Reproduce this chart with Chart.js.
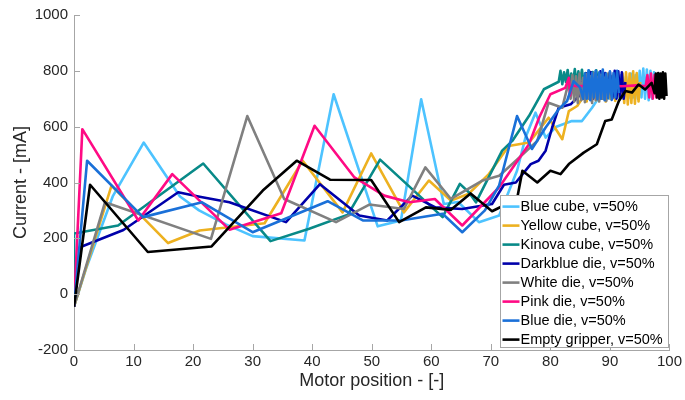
<!DOCTYPE html>
<html>
<head>
<meta charset="utf-8">
<title>Motor current vs position</title>
<script src="https://cdn.jsdelivr.net/npm/chart.js@4.4.1/dist/chart.umd.min.js"></script>
<style>
  html, body { margin: 0; padding: 0; background: #fff; }
  #wrap { width: 685px; height: 400px; }
</style>
</head>
<body>
<div id="wrap"><canvas id="currentChart" width="685" height="400"></canvas></div>
<script>
// [motor position, current mA] per grasped object, v = 50%
const blueCube = [
  [0, -45], [2, 90], [6.5, 350], [11.7, 543], [17.8, 350], [21, 300], [25.5, 250], [30, 208],
  [38.7, 192], [43.6, 716], [51, 243], [54.9, 264], [58.3, 698], [62.1, 323], [64.5, 330],
  [68, 258], [71.4, 282], [74.4, 442], [75.8, 560], [77.5, 650], [79.2, 561], [81, 600],
  [83.6, 620], [85.3, 620], [87, 668], [88, 700],
  [88.3, 700], [88.7, 780], [89.1, 705], [89.5, 785], [89.9, 700], [90.3, 780], [90.7, 710],
  [91.1, 790], [91.5, 700], [91.9, 785], [92.3, 705], [92.7, 780], [93.1, 700], [93.5, 790],
  [93.9, 705], [94.3, 785], [94.7, 700], [95.0, 800], [95.3, 705], [95.6, 808], [95.9, 700],
  [96.2, 805], [96.5, 695], [96.8, 800], [97.1, 700], [97.4, 795], [97.7, 720]
];
const yellowCube = [
  [0, -45], [6.3, 389], [15.8, 183], [21.1, 228], [32, 254], [38.4, 478], [45.1, 293],
  [49.9, 504], [55.4, 293], [59.6, 407], [63.3, 335], [66.3, 360], [69.7, 431], [73, 531],
  [76.4, 543], [79.7, 632], [82, 555], [83.1, 656], [84.5, 674],
  [85.3, 700], [85.7, 780], [86.1, 690], [86.5, 785], [86.9, 700], [87.3, 775], [87.7, 695],
  [88.1, 785], [88.5, 700], [88.9, 780], [89.3, 690], [89.7, 790], [90.1, 700], [90.5, 782],
  [90.9, 692], [91.3, 788], [91.7, 700], [92.1, 790], [92.4, 685], [92.7, 795], [93.0, 680],
  [93.3, 790], [93.6, 685], [93.9, 798], [94.2, 682], [94.5, 792], [94.8, 690], [95.1, 760]
];
const kinovaCube = [
  [0, -45], [0, 217], [7.4, 246], [21.7, 468], [33, 190], [39.5, 234], [46, 285], [51.4, 482],
  [61.9, 276], [64.8, 395], [66.3, 365], [67.5, 329], [71.9, 514], [73.6, 549], [76.4, 638],
  [78.9, 734], [81.4, 761],
  [81.7, 800], [82.0, 752], [82.3, 795], [82.6, 760], [82.9, 803], [83.2, 748], [83.5, 790],
  [83.8, 755], [84.1, 806], [84.4, 750], [84.7, 798], [85.0, 762], [85.3, 804], [85.6, 745],
  [85.9, 792], [86.2, 758], [86.5, 800], [86.8, 750], [87.1, 796], [87.4, 755], [87.7, 802],
  [88.0, 748], [88.3, 790], [88.6, 760]
];
const darkblueDie = [
  [0, -45], [1, 168], [8.3, 230], [17.5, 365], [21.1, 349], [26.1, 329], [35.6, 258],
  [41.3, 394], [47.9, 282], [52.6, 264], [56.8, 353], [60.7, 311], [65.2, 305], [70.2, 323],
  [72.2, 392], [74.2, 400], [76.7, 466], [78, 478], [79.2, 514], [80.3, 597], [81.4, 668],
  [83.4, 680], [84.8, 710],
  [85.2, 760], [85.6, 700], [86.0, 790], [86.4, 705], [86.8, 795], [87.2, 700], [87.6, 790],
  [88.0, 710], [88.4, 798], [88.8, 700], [89.2, 792], [89.6, 705], [90.0, 795], [90.4, 700],
  [90.8, 800], [91.1, 700], [91.4, 798], [91.7, 705], [92.0, 795], [92.3, 700], [92.6, 760]
];
const whiteDie = [
  [0, -45], [5.2, 329], [23, 198], [29.1, 638], [35.3, 341], [44, 258], [49.6, 321],
  [55.4, 305], [59, 454], [63.3, 341], [68.5, 406], [71.4, 424], [74.2, 478], [77.8, 549],
  [79.7, 686], [82, 668], [83.1, 763],
  [83.4, 700], [83.7, 785], [84.0, 690], [84.3, 780], [84.6, 685], [84.9, 790], [85.2, 695],
  [85.5, 775], [85.8, 688], [86.1, 788], [86.4, 700], [86.7, 780], [87.0, 685], [87.3, 792],
  [87.6, 695], [87.9, 778], [88.2, 690], [88.5, 786], [88.8, 700], [89.1, 775], [89.4, 692],
  [89.8, 770]
];
const pinkDie = [
  [0, -45], [1.4, 591], [10.8, 264], [16.5, 430], [26.1, 231], [34.8, 290], [40.4, 603],
  [47.1, 418], [52.1, 353], [56.3, 329], [60.6, 341], [65.2, 246], [71.4, 383], [76.4, 537],
  [78.1, 632], [80, 716], [82.5, 739], [83.1, 775], [83.3, 712], [83.6, 748], [84.5, 745],
  [88, 748], [92, 745], [94.5, 748], [96, 745],
  [96.3, 785], [96.6, 705], [96.9, 790], [97.2, 700], [97.5, 785], [97.8, 705], [98.1, 780],
  [98.4, 710], [98.5, 740]
];
const blueDie = [
  [0, -45], [2.2, 478], [11.6, 276], [21.5, 329], [30, 222], [42.6, 333], [48.5, 264],
  [54.9, 264], [61.9, 288], [65.2, 222], [69, 300], [71.4, 390], [74.4, 638], [76.9, 520],
  [79.2, 597], [81.4, 662], [82.8, 692], [83.9, 763], [85, 740],
  [85.5, 700], [85.8, 790], [86.1, 700], [86.4, 802], [86.7, 695], [87.0, 792], [87.3, 705],
  [87.6, 800], [87.9, 698], [88.2, 795], [88.5, 700], [88.8, 805], [89.1, 695], [89.4, 790],
  [89.7, 702], [90.0, 798], [90.3, 696], [90.6, 792], [90.9, 705], [91.2, 800], [91.5, 720]
];
const emptyGripper = [
  [0, -45], [2.7, 392], [12.4, 151], [23.1, 171], [31.7, 371], [37.4, 478], [43, 410],
  [49.9, 409], [54.6, 258], [59.1, 311], [63.3, 302], [66.6, 361], [70.2, 297], [74.4, 341],
  [75.3, 442], [77.8, 400], [80, 442], [81.7, 430], [83.1, 466], [85.6, 507], [87.8, 537],
  [89.2, 620], [90.3, 626], [91.5, 692], [92.6, 728], [93.7, 722], [94.8, 751], [95.9, 733],
  [97, 757],
  [97.5, 720], [97.7, 790], [97.9, 705], [98.1, 792], [98.3, 700], [98.5, 790], [98.7, 705],
  [98.9, 795], [99.1, 700], [99.3, 790], [99.5, 710]
];

const seriesLabels = [
  'Blue cube, v=50%', 'Yellow cube, v=50%', 'Kinova cube, v=50%', 'Darkblue die, v=50%',
  'White die, v=50%', 'Pink die, v=50%', 'Blue die, v=50%', 'Empty gripper, v=50%'
];
const xTickValues = [0, 10, 20, 30, 40, 50, 60, 70, 80, 90, 100];
const yTickValues = [-200, 0, 200, 400, 600, 800, 1000];

const allSeries = [blueCube, yellowCube, kinovaCube, darkblueDie, whiteDie, pinkDie, blueDie, emptyGripper];
const lineColors = ['#4dc3ff', '#edb120', '#088a88', '#0000aa', '#808080', '#ff0a84', '#1a70d8', '#000000'];

const FONT = '"Liberation Sans", Arial, Helvetica, sans-serif';
const AXIS_COLOR = '#a6a6a6';
const TEXT_COLOR = '#262626';

// small tick marks pointing into the plot area
const inwardTicks = {
  id: 'inwardTicks',
  afterDatasetsDraw(chart) {
    const { ctx, chartArea, scales } = chart;
    ctx.save();
    ctx.strokeStyle = AXIS_COLOR;
    ctx.lineWidth = 1;
    ctx.beginPath();
    scales.x.ticks.forEach(t => {
      const px = Math.round(scales.x.getPixelForValue(t.value)) + 0.5;
      ctx.moveTo(px, chartArea.bottom);
      ctx.lineTo(px, chartArea.bottom - 6);
    });
    scales.y.ticks.forEach(t => {
      const py = Math.round(scales.y.getPixelForValue(t.value)) + 0.5;
      ctx.moveTo(chartArea.left, py);
      ctx.lineTo(chartArea.left + 6, py);
    });
    ctx.stroke();
    ctx.restore();
  }
};

// boxed legend in the lower right corner of the plot
const insideLegend = {
  id: 'insideLegend',
  afterDraw(chart) {
    const { ctx, chartArea } = chart;
    const rowH = 19, boxW = 168, boxH = 152;
    const right = chartArea.right - 1, bottom = chartArea.bottom - 3;
    const left = right - boxW, top = bottom - boxH;
    ctx.save();
    ctx.fillStyle = '#fff';
    ctx.fillRect(left, top, boxW, boxH);
    ctx.strokeStyle = AXIS_COLOR;
    ctx.lineWidth = 1;
    ctx.strokeRect(Math.round(left) + 0.5, Math.round(top) + 0.5, boxW, boxH);
    ctx.font = '14.5px ' + FONT;
    ctx.textBaseline = 'middle';
    ctx.textAlign = 'left';
    chart.data.datasets.forEach((ds, i) => {
      const y = top + 11.6 + i * rowH;
      ctx.strokeStyle = ds.borderColor;
      ctx.lineWidth = ds.borderWidth;
      ctx.beginPath();
      ctx.moveTo(left + 2, y);
      ctx.lineTo(left + 19, y);
      ctx.stroke();
      ctx.fillStyle = '#000';
      ctx.fillText(ds.label, left + 20, y + 0.5);
    });
    ctx.restore();
  }
};

const datasets = allSeries.map((pts, i) => ({
  label: seriesLabels[i],
  data: pts.map(([x, y]) => ({ x, y })),
  borderColor: lineColors[i],
  backgroundColor: lineColors[i],
  borderWidth: 2.6,
  borderJoinStyle: 'round',
  pointRadius: 0,
  tension: 0,
  fill: false,
  order: allSeries.length - 1 - i   // later series drawn on top
}));

new Chart(document.getElementById('currentChart'), {
  type: 'line',
  data: { datasets },
  plugins: [inwardTicks, insideLegend],
  options: {
    responsive: false,
    animation: false,
    devicePixelRatio: 1,
    layout: { padding: { top: 14, right: 14, left: 0, bottom: 0 } },
    plugins: {
      legend: { display: false },
      tooltip: { enabled: false }
    },
    scales: {
      x: {
        type: 'linear',
        min: 0,
        max: 100,
        afterBuildTicks: s => { s.ticks = xTickValues.map(v => ({ value: v })); },
        afterFit: s => { s.height = 50; },
        grid: { display: false, drawTicks: false },
        border: { display: true, color: AXIS_COLOR, width: 1 },
        ticks: {
          color: TEXT_COLOR,
          font: { family: FONT, size: 15 },
          padding: 3,
          maxRotation: 0,
          callback: v => String(v)
        },
        title: {
          display: true,
          text: 'Motor position - [-]',
          color: TEXT_COLOR,
          font: { family: FONT, size: 18 },
          padding: { top: 0, bottom: 8 }
        }
      },
      y: {
        type: 'linear',
        min: -200,
        max: 1000,
        afterBuildTicks: s => { s.ticks = yTickValues.map(v => ({ value: v })); },
        afterFit: s => { s.width = 74; },
        grid: { display: false, drawTicks: false },
        border: { display: true, color: AXIS_COLOR, width: 1 },
        ticks: {
          color: TEXT_COLOR,
          font: { family: FONT, size: 15 },
          padding: 6,
          callback: v => String(v)
        },
        title: {
          display: true,
          text: 'Current - [mA]',
          color: TEXT_COLOR,
          font: { family: FONT, size: 18 },
          padding: { top: 10, bottom: 0 }
        }
      }
    }
  }
});
</script>
</body>
</html>
